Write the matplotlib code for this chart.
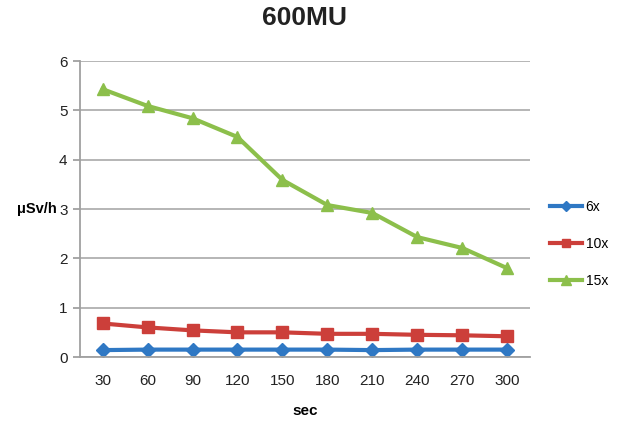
import matplotlib.pyplot as plt

# ================= DATA =================
seconds = ["30", "60", "90", "120", "150", "180", "210", "240", "270", "300"]
dose_6x = [0.14, 0.15, 0.15, 0.15, 0.15, 0.15, 0.14, 0.15, 0.15, 0.15]
dose_10x = [0.68, 0.60, 0.54, 0.50, 0.50, 0.47, 0.47, 0.45, 0.44, 0.42]
dose_15x = [5.43, 5.09, 4.84, 4.46, 3.59, 3.08, 2.92, 2.43, 2.21, 1.80]

plt.rcParams["font.family"] = ["Liberation Sans", "DejaVu Sans"]

fig = plt.figure(figsize=(6.21, 4.24), dpi=100)
ax = fig.add_axes([0.129, 0.158, 0.724, 0.698])

x = range(len(seconds))
ax.plot(x, dose_6x, color="#2f78c4", marker="D", markersize=7, lw=3, label="6x")
ax.plot(x, dose_10x, color="#cc3f3a", marker="s", markersize=8, lw=3, label="10x")
ax.plot(x, dose_15x, color="#8cbf4b", marker="^", markersize=9, lw=3, label="15x")

ax.set_xlim(-0.5, len(seconds) - 0.5)
ax.set_ylim(0, 6)
ax.set_xticks(list(x))
ax.set_xticklabels(seconds)
ax.set_yticks(range(7))
ax.grid(axis="y", color="#b0b0b0", lw=1.3)
ax.set_axisbelow(True)

for s in ["top", "right"]:
    ax.spines[s].set_visible(False)
ax.spines["left"].set_color("#a0a0a0")
ax.spines["bottom"].set_color("#a0a0a0")
ax.spines["left"].set_linewidth(1.3)
ax.spines["bottom"].set_linewidth(1.3)
ax.tick_params(axis="x", length=0, pad=12, labelsize=11, colors="#222222")
ax.tick_params(axis="y", length=5, width=1.3, color="#a0a0a0", pad=4,
               labelsize=11, labelcolor="#222222")

ax.set_title("600MU", fontsize=19, fontweight="bold", pad=26, color="#222222")
ax.set_xlabel("sec", fontsize=11, fontweight="bold", labelpad=12)
ax.set_ylabel("μSv/h", fontsize=10.5, fontweight="bold", rotation=0,
              ha="right", va="center")
ax.yaxis.set_label_coords(-0.052, 0.5)

fig.legend(loc="center left", bbox_to_anchor=(0.885, 0.425), frameon=False,
           fontsize=10, handlelength=2.3, handletextpad=0.3, labelspacing=1.65,
           markerscale=0.8, borderpad=0, borderaxespad=0)

fig.savefig("out.png", dpi=100)
